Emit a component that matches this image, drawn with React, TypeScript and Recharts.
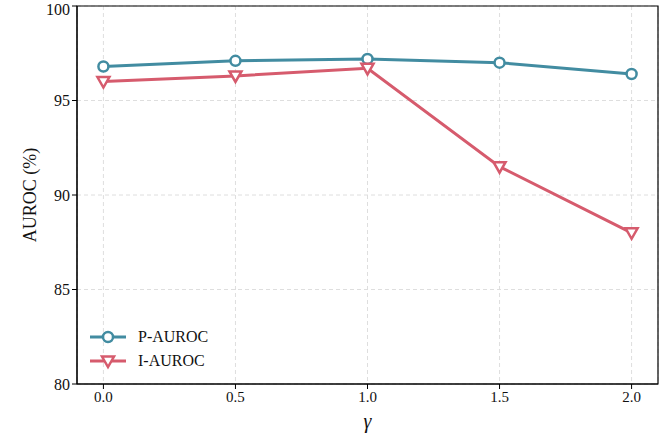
import { LineChart, Line, XAxis, YAxis, CartesianGrid, ReferenceArea } from 'recharts'

const gammas = [0.0, 0.5, 1.0, 1.5, 2.0]
const pAuroc = [96.8, 97.1, 97.2, 97.0, 96.4]
const iAuroc = [96.0, 96.3, 96.7, 91.5, 88.0]
const xTicks = [0, 0.5, 1, 1.5, 2]
const yTicks = [80, 85, 90, 95, 100]

const TEAL = '#428ca1'
const RED = '#d65b6d'
const FONT = '"Liberation Serif", "Times New Roman", serif'

const data = gammas.map((g, i) => ({ gamma: g, p: pAuroc[i], i: iAuroc[i] }))

const CircleDot = (props: any) => {
  const { cx, cy } = props
  if (cx == null || cy == null) return null
  return <circle cx={cx} cy={cy} r={5} fill="#fff" stroke={TEAL} strokeWidth={2.5} />
}

const TriDot = (props: any) => {
  const { cx, cy } = props
  if (cx == null || cy == null) return null
  const d = `M${cx - 6},${cy - 4.5} L${cx + 6},${cy - 4.5} L${cx},${cy + 6} Z`
  return <path d={d} fill="#fff" stroke={RED} strokeWidth={2.5} />
}

// legend drawn as overlay so it doesn't eat chart height
const LegendBox = () => {
  const items = [
    { label: 'P-AUROC', color: TEAL, kind: 'o' },
    { label: 'I-AUROC', color: RED, kind: 'v' },
  ]
  return (
    <svg width={140} height={50} style={{ position: 'absolute', left: 88, top: 325, overflow: 'visible' }}>
      {items.map((it, k) => {
        const y = 12 + k * 24
        return (
          <g key={it.label}>
            <line x1={2} x2={38} y1={y} y2={y} stroke={it.color} strokeWidth={3} />
            {it.kind === 'o' ? (
              <circle cx={20} cy={y} r={5} fill="#fff" stroke={it.color} strokeWidth={2.5} />
            ) : (
              <path d={`M${14},${y - 4.5} L${26},${y - 4.5} L${20},${y + 6} Z`} fill="#fff" stroke={it.color} strokeWidth={2.5} />
            )}
            <text x={50} y={y + 5} fontFamily={FONT} fontSize={16} fill="#111">{it.label}</text>
          </g>
        )
      })}
    </svg>
  )
}

export default function App() {
  return (
    <div style={{ position: 'absolute', left: 0, top: 0, width: 668, height: 436, background: '#fff' }}>
      <LineChart width={668} height={436} data={data} margin={{ top: 6, right: 10, bottom: 0, left: 0 }}>
        <CartesianGrid stroke="#dedede" strokeDasharray="4 3" strokeWidth={1} />
        <XAxis
          dataKey="gamma"
          type="number"
          domain={[-0.1, 2.1]}
          ticks={xTicks}
          tickFormatter={(v: number) => v.toFixed(1)}
          height={52}
          stroke="#000"
          tickSize={5}
          tick={{ fontFamily: FONT, fontSize: 15, fill: '#111' }}
          label={{ value: 'γ', position: 'insideBottom', offset: 8, style: { fontFamily: FONT, fontSize: 20, fontStyle: 'italic', fill: '#111' } }}
        />
        <YAxis
          type="number"
          domain={[80, 100]}
          ticks={yTicks}
          width={77}
          stroke="#000"
          tickSize={5}
          tick={{ fontFamily: FONT, fontSize: 16, fill: '#111' }}
          label={{ value: 'AUROC (%)', angle: -90, position: 'insideLeft', offset: 30, style: { textAnchor: 'middle', fontFamily: FONT, fontSize: 18, fill: '#111' } }}
        />
        <ReferenceArea x1={-0.1} x2={2.1} y1={80} y2={100} fill="none" fillOpacity={0} stroke="#000" strokeOpacity={1} strokeWidth={1.2} ifOverflow="visible" />
        <Line dataKey="p" stroke={TEAL} strokeWidth={3} dot={<CircleDot />} isAnimationActive={false} />
        <Line dataKey="i" stroke={RED} strokeWidth={3} dot={<TriDot />} isAnimationActive={false} />
      </LineChart>
      <LegendBox />
    </div>
  )
}
